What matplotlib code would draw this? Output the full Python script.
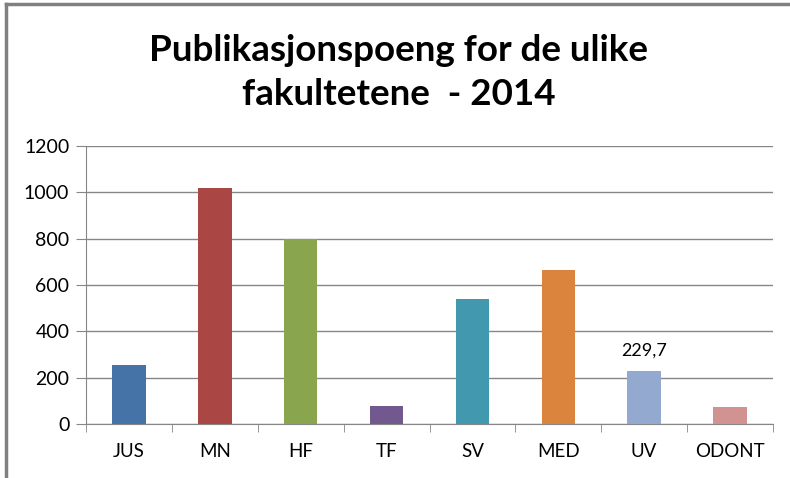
import numpy as np
import matplotlib.pyplot as plt
from matplotlib.lines import Line2D

faculties = ['JUS', 'MN', 'HF', 'TF', 'SV', 'MED', 'UV', 'ODONT']
points = [255, 1020, 800, 78, 538, 665, 229.7, 73]
colors = ['#4572A7', '#AA4643', '#89A54E', '#71588F',
          '#4198AF', '#DB843D', '#93A9CF', '#D19392']
labelled = {'UV': '229,7'}

plt.rcParams['font.family'] = ['Lato', 'DejaVu Sans']

fig = plt.figure(figsize=(7.9, 4.78), dpi=100)
ax = fig.add_axes([86/790, 1 - 424/478, (773 - 86)/790, (424 - 146)/478])

x = np.arange(len(faculties))
ax.bar(x, points, width=0.39, color=colors, zorder=3)

for i, name in enumerate(faculties):
    if name in labelled:
        ax.annotate(labelled[name], (x[i], points[i]), xytext=(0, 9),
                    textcoords='offset points', ha='center', va='bottom',
                    fontsize=13)

ax.set_xlim(-0.5, len(faculties) - 0.5)
ax.set_ylim(0, 1200)
ax.set_yticks(np.arange(0, 1201, 200))
ax.set_xticks(x)
ax.set_xticklabels(faculties)
ax.set_xticks(np.arange(-0.5, len(faculties)), minor=True)

grid_c = '#868686'
ax.grid(axis='y', color=grid_c, linewidth=1.0, zorder=0)
for s in ['top', 'right']:
    ax.spines[s].set_visible(False)
ax.spines['left'].set_color(grid_c)
ax.spines['bottom'].set_color(grid_c)

ax.tick_params(axis='y', length=7, color=grid_c, labelsize=14, pad=5)
ax.tick_params(axis='x', which='major', length=0, labelsize=13.5, pad=14)
ax.tick_params(axis='x', which='minor', length=6, color=grid_c)

fig.text(0.505, 0.848, 'Publikasjonspoeng for de ulike\nfakultetene  - 2014',
         ha='center', va='center', fontsize=26.5, fontweight='bold',
         linespacing=1.4)

# outer frame (top and left edges only visible)
fig.add_artist(Line2D([6/790, 6/790], [0, 1 - 4/478], color='#808080',
                      linewidth=2.5, transform=fig.transFigure))
fig.add_artist(Line2D([6/790, 1], [1 - 4/478, 1 - 4/478], color='#808080',
                      linewidth=2.5, transform=fig.transFigure))

fig.savefig('out.png', dpi=100)
